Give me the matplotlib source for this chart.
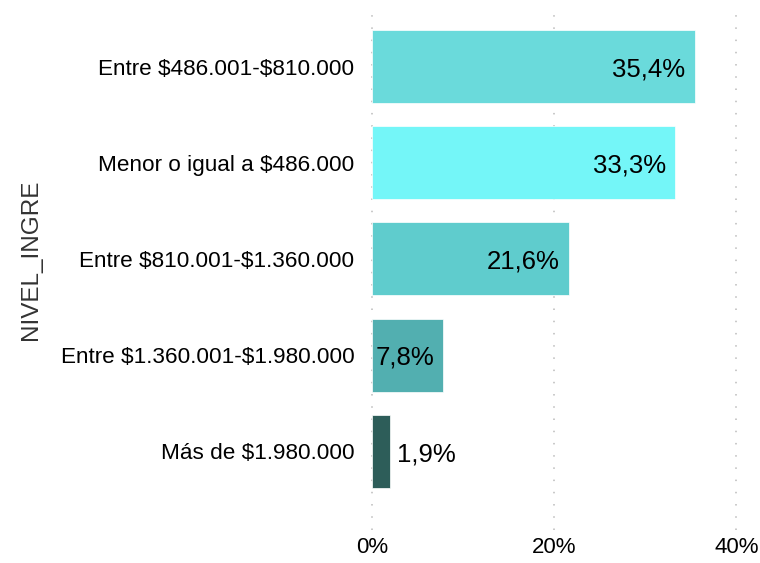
import matplotlib
matplotlib.use("Agg")
import matplotlib.pyplot as plt

plt.rcParams["font.family"] = ["Liberation Sans", "DejaVu Sans"]
plt.rcParams["text.parse_math"] = False

# Datos (de arriba hacia abajo)
categorias = ["Entre $486.001-$810.000", "Menor o igual a $486.000",
              "Entre $810.001-$1.360.000", "Entre $1.360.001-$1.980.000",
              "Más de $1.980.000"]
porcentajes = [35.4, 33.3, 21.6, 7.8, 1.9]
colores = ["#6ADADB", "#74F6F8", "#5FCCCD", "#52AFB0", "#2D5D59"]
ticks_x = [0, 20, 40]

fig = plt.figure(figsize=(7.6, 5.63), dpi=100)
ax = fig.add_axes([0.472, 0.0586, 0.521, 0.9254])

pos = list(range(len(categorias)))[::-1]
ax.barh(pos, porcentajes, height=0.76, color=colores, edgecolor="white",
        linewidth=0.5, zorder=2)

# etiquetas de valor
for p, v in zip(pos, porcentajes):
    txt = f"{v:.1f}%".replace(".", ",")
    if v > 5:
        ax.text(v - 1.0, p - 0.03, txt, ha="right", va="center", fontsize=18.5, zorder=3)
    else:
        ax.text(v + 0.8, p - 0.03, txt, ha="left", va="center", fontsize=18.5, zorder=3)

ax.set_xlim(-1.5, 42)
ax.set_ylim(-0.82, len(categorias) - 0.4)
ax.set_xticks(ticks_x)
ax.set_xticklabels([f"{t}%" for t in ticks_x], fontsize=16)
ax.set_yticks(pos)
ax.set_yticklabels(categorias, fontsize=16.2)
ax.tick_params(length=0, pad=3)
ax.tick_params(axis="x", pad=5)
ax.grid(axis="x", color="#BBBBBB", linestyle=(0, (1, 7)), linewidth=1.1, zorder=0)
ax.grid(axis="y", visible=False)
for s in ax.spines.values():
    s.set_visible(False)

ax.set_ylabel("NIVEL_INGRE", fontsize=17.5, color="#333333")
ax.yaxis.set_label_coords(-0.80, 0.518)

fig.savefig("out.png", dpi=100)
